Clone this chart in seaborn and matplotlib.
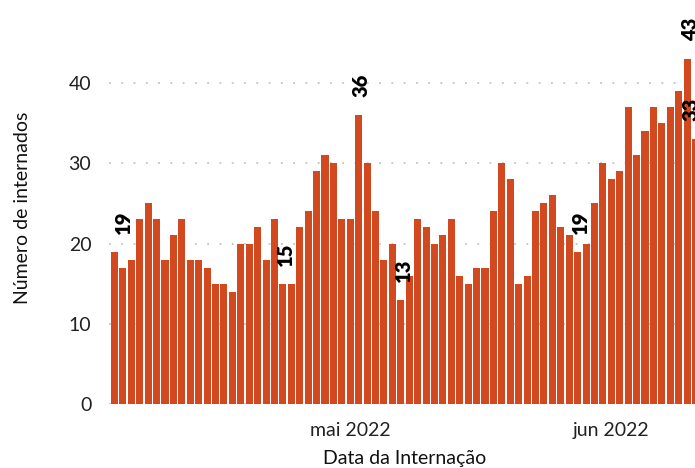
import numpy as np
import pandas as pd
import matplotlib
matplotlib.use("Agg")
import matplotlib.pyplot as plt
import seaborn as sns

# ---- data ----
start_date = "2022-04-03"
counts = [19, 17, 18, 23, 25, 23, 18, 21, 23, 18,
          18, 17, 15, 15, 14, 20, 20, 22, 18, 23,
          15, 15, 22, 24, 29, 31, 30, 23, 23, 36,
          30, 24, 18, 20, 13, 16, 23, 22, 20, 21,
          23, 16, 15, 17, 17, 24, 30, 28, 15, 16,
          24, 25, 26, 22, 21, 19, 20, 25, 30, 28,
          29, 37, 31, 34, 37, 35, 37, 39, 43, 33]
label_idx = [0, 20, 29, 34, 55, 68, 69]
label_nudge_px = [9, 2.5, 2.5, 2.5, 2.5, 3, -4.5]
month_names = {5: "mai", 6: "jun"}
x_label = "Data da Internação"
y_label = "Número de internados"
y_ticks = [0, 10, 20, 30, 40]

dates = pd.date_range(start_date, periods=len(counts), freq="D")
df = pd.DataFrame({"idx": np.arange(len(counts)), "n": counts})

sns.set_theme(style="white")
plt.rcParams["font.family"] = ["Lato", "DejaVu Sans"]

fig = plt.figure(figsize=(6.95, 4.68), dpi=100)
ax = fig.add_axes([109.4 / 695, 1 - 404 / 468, 591.2 / 695, 392 / 468])

bar_color = "#D2491F"
sns.barplot(data=df, x="idx", y="n", color=bar_color, width=0.84,
            saturation=1, ax=ax, zorder=2, linewidth=0, errorbar=None)

ax.set_xlim(-0.6, len(counts) - 1 + 0.6)
ax.set_ylim(0, 392 / 8.025)

# gridlines
for yv in y_ticks:
    ax.axhline(yv, color="#C4C4C4", lw=1.3, ls=(0, (1, 5.8)), zorder=1)

# ticks
tick_pos = [i for i, d in enumerate(dates) if d.day == 1]
tick_lab = [f"{month_names[dates[i].month]} {dates[i].year}" for i in tick_pos]
ax.set_xticks(tick_pos)
ax.set_xticklabels(tick_lab)
ax.set_yticks(y_ticks)
ax.tick_params(axis="both", length=0, labelsize=14, colors="#222222", pad=13)

ax.set_xlabel(x_label, fontsize=14, color="#111111", labelpad=8)
ax.set_ylabel(y_label, fontsize=14, color="#111111", labelpad=27)

for s in ax.spines.values():
    s.set_visible(False)

# annotations
for i, dx in zip(label_idx, label_nudge_px):
    ax.annotate(str(counts[i]), xy=(i, counts[i]), xytext=(dx, 18),
                textcoords="offset pixels", rotation=90, ha="center",
                va="bottom", fontsize=14.5, fontweight="heavy", color="black",
                annotation_clip=False)

fig.savefig("out.png", dpi=100)
